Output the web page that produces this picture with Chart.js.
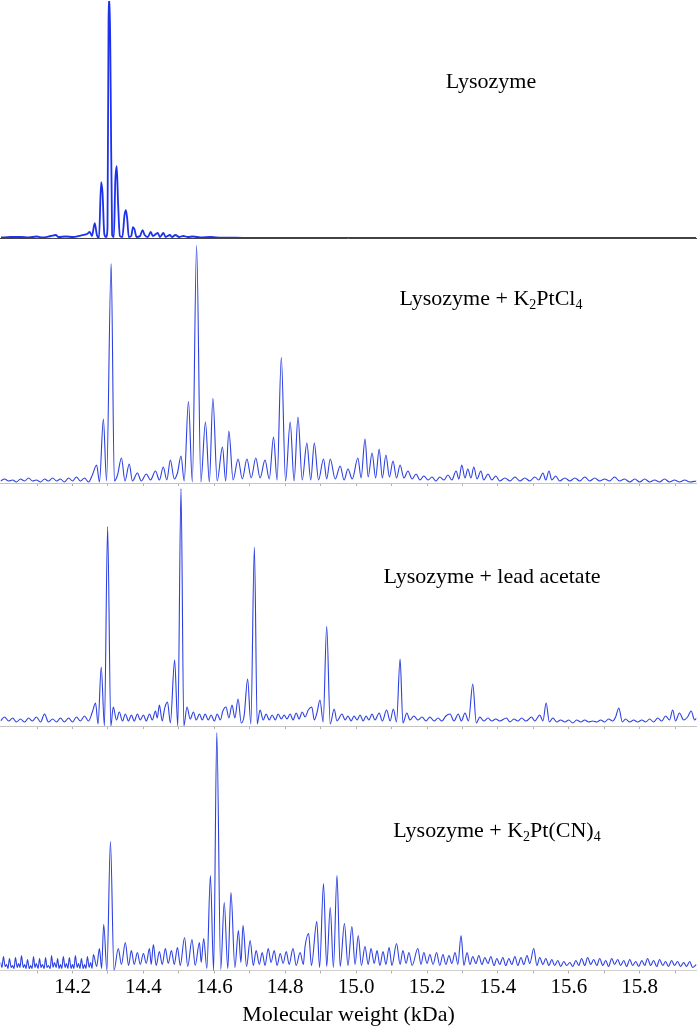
<!DOCTYPE html>
<html>
<head>
<meta charset="utf-8">
<script src="https://cdn.jsdelivr.net/npm/chart.js@4.4.1/dist/chart.umd.min.js"></script>
<style>
  html, body { margin: 0; padding: 0; background: #fff; overflow: hidden; }
  #wrap { position: relative; width: 697px; height: 1028px; }
  .panel { position: absolute; left: 0; width: 697px; }
  .lbl { position: absolute; font-family: "Liberation Serif", "Times New Roman", serif; font-size: 22px; color: #000; white-space: nowrap; transform: translate(-50%, -50%); }
  .lbl sub { font-size: 14px; vertical-align: -4px; line-height: 0; }
</style>
</head>
<body>
<div id="wrap">
  <div class="panel" id="c1"><canvas id="cv1"></canvas></div>
  <div class="panel" id="c2"><canvas id="cv2"></canvas></div>
  <div class="panel" id="c3"><canvas id="cv3"></canvas></div>
  <div class="panel" id="c4"><canvas id="cv4"></canvas></div>
  <div class="lbl" style="left:491px; top:81px;">Lysozyme</div>
  <div class="lbl" style="left:491px; top:298px;">Lysozyme + K<sub>2</sub>PtCl<sub>4</sub></div>
  <div class="lbl" style="left:492px; top:576px;">Lysozyme + lead acetate</div>
  <div class="lbl" style="left:497px; top:830px;">Lysozyme + K<sub>2</sub>Pt(CN)<sub>4</sub></div>
</div>
<script>
// ---------------- DATA (mass in kDa, intensity in arbitrary units) ----------------
const massRange = [13.997, 15.960];
const tickValues = [14.1,14.2,14.3,14.4,14.5,14.6,14.7,14.8,14.9,15.0,15.1,15.2,15.3,15.4,15.5,15.6,15.7,15.8,15.9];
const labeledTicks = [14.2,14.4,14.6,14.8,15.0,15.2,15.4,15.6,15.8];
const axisTitle = "Molecular weight (kDa)";

const lysozyme = [
 [13.997,0.5],[14.025,1],[14.053,1],[14.076,0.5],[14.098,1.5],[14.115,0.5],[14.138,2],[14.152,3],[14.160,1],
 [14.180,1.5],[14.200,1],[14.222,2.5],[14.240,4],[14.248,6],[14.254,2],[14.262,15],[14.268,3],[14.274,0],
 [14.280,56],[14.284,45],[14.289,4],[14.294,1],[14.298,10],[14.301,220],[14.304,240],[14.307,150],[14.311,3],
 [14.316,1],[14.320,57],[14.324,72],[14.328,34],[14.333,2],[14.340,1],[14.346,23],[14.350,28],[14.354,18],
 [14.358,1],[14.365,2],[14.370,11],[14.374,9],[14.380,1],[14.390,2],[14.397,8],[14.403,3],[14.412,1],[14.420,6],
 [14.426,2],[14.440,5],[14.446,1],[14.456,5],[14.462,1],[14.474,3],[14.480,1],[14.490,3],[14.500,1],[14.512,2],
 [14.525,1],[14.540,1.5],[14.560,0.5],[14.590,1],[14.620,0.3],[14.660,0.3],[14.700,0],[15.960,0]
];

const ptcl4 = [
 [13.997,2],[14.008,4],[14.020,2],[14.031,3],[14.042,1],[14.053,4],[14.065,2],[14.076,5],[14.087,2],[14.098,3],
 [14.110,1],[14.121,4],[14.132,2],[14.144,5],[14.155,2],[14.166,4],[14.177,1],[14.189,5],[14.200,2],[14.211,6],
 [14.222,2],[14.234,5],[14.245,1],[14.256,8],[14.268,18],[14.276,1],[14.287,64],[14.296,2],[14.309,220],[14.318,2],
 [14.327,8],[14.338,25],[14.348,2],[14.360,19],[14.369,2],[14.383,10],[14.394,2],[14.408,9],[14.420,3],[14.434,12],
 [14.445,3],[14.456,16],[14.466,3],[14.476,23],[14.487,4],[14.496,10],[14.506,27],[14.515,2],[14.527,82],[14.538,1],
 [14.550,238],[14.562,1],[14.575,61],[14.586,1],[14.596,85],[14.608,2],[14.623,36],[14.632,2],[14.641,52],[14.653,3],
 [14.667,24],[14.679,4],[14.692,24],[14.704,5],[14.717,25],[14.729,5],[14.743,23],[14.755,4],[14.767,46],[14.777,3],
 [14.789,126],[14.801,2],[14.814,61],[14.825,2],[14.836,66],[14.848,3],[14.861,40],[14.872,3],[14.882,40],[14.894,3],
 [14.908,24],[14.917,4],[14.927,24],[14.941,4],[14.955,17],[14.966,3],[14.977,14],[14.989,4],[15.005,25],[15.014,5],
 [15.025,44],[15.034,6],[15.045,30],[15.055,5],[15.065,34],[15.074,5],[15.084,28],[15.094,6],[15.104,22],[15.114,5],
 [15.124,18],[15.135,5],[15.146,12],[15.158,4],[15.169,9],[15.180,3],[15.191,7],[15.203,3],[15.214,6],[15.225,2],
 [15.236,6],[15.248,3],[15.259,8],[15.270,3],[15.282,12],[15.290,4],[15.298,18],[15.307,5],[15.315,14],[15.324,5],
 [15.332,16],[15.341,4],[15.352,12],[15.360,3],[15.372,9],[15.383,3],[15.394,7],[15.405,2],[15.420,5],[15.434,2],
 [15.448,6],[15.462,2],[15.476,5],[15.490,2],[15.504,6],[15.515,3],[15.527,10],[15.535,3],[15.544,12],[15.552,3],
 [15.563,7],[15.574,2],[15.589,5],[15.603,2],[15.617,5],[15.631,2],[15.645,6],[15.659,2],[15.673,5],[15.687,2],
 [15.701,4],[15.715,2],[15.729,6],[15.743,2],[15.757,4],[15.772,1],[15.786,4],[15.800,1],[15.814,4],[15.828,1],
 [15.842,3],[15.856,1],[15.870,4],[15.884,1],[15.898,3],[15.912,1],[15.927,3],[15.941,1],[15.960,2]
];

const leadAcetate = [
 [13.997,5],[14.008,9],[14.020,5],[14.031,8],[14.042,4],[14.053,7],[14.065,4],[14.076,8],[14.087,5],[14.098,9],
 [14.110,4],[14.121,12],[14.132,4],[14.144,7],[14.155,4],[14.166,8],[14.177,4],[14.189,8],[14.200,4],[14.211,9],
 [14.222,5],[14.234,10],[14.245,5],[14.256,14],[14.265,23],[14.272,2],[14.281,59],[14.290,0],[14.299,200],[14.308,0],
 [14.315,19],[14.324,6],[14.332,14],[14.341,5],[14.349,12],[14.358,5],[14.366,11],[14.374,5],[14.383,12],[14.391,6],
 [14.400,11],[14.408,5],[14.417,12],[14.425,6],[14.434,15],[14.439,8],[14.445,21],[14.453,5],[14.460,18],[14.468,24],
 [14.476,3],[14.488,66],[14.497,0],[14.506,238],[14.514,0],[14.523,19],[14.532,7],[14.541,14],[14.549,6],[14.558,12],
 [14.566,6],[14.574,12],[14.583,6],[14.591,11],[14.600,5],[14.608,12],[14.617,6],[14.624,15],[14.633,19],[14.641,8],
 [14.650,21],[14.658,8],[14.667,27],[14.676,3],[14.684,10],[14.694,47],[14.703,2],[14.713,179],[14.721,2],[14.729,16],
 [14.738,6],[14.746,12],[14.755,6],[14.763,11],[14.772,6],[14.780,12],[14.789,7],[14.797,11],[14.805,7],[14.814,12],
 [14.822,6],[14.831,13],[14.839,7],[14.848,14],[14.856,9],[14.865,16],[14.875,19],[14.882,6],[14.890,14],[14.898,26],
 [14.907,4],[14.917,100],[14.927,2],[14.938,17],[14.946,5],[14.960,12],[14.969,6],[14.977,10],[14.986,5],[14.994,10],
 [15.003,6],[15.011,11],[15.020,5],[15.028,10],[15.036,6],[15.045,12],[15.053,6],[15.065,13],[15.074,5],[15.086,16],
 [15.096,5],[15.105,17],[15.114,4],[15.124,67],[15.132,3],[15.143,13],[15.152,6],[15.163,10],[15.174,6],[15.186,9],
 [15.197,5],[15.208,9],[15.220,5],[15.231,8],[15.242,5],[15.253,10],[15.265,12],[15.276,5],[15.288,12],[15.297,5],
 [15.307,13],[15.317,5],[15.329,42],[15.339,3],[15.349,9],[15.360,5],[15.372,8],[15.383,5],[15.394,7],[15.405,5],
 [15.424,8],[15.434,4],[15.445,7],[15.456,5],[15.467,8],[15.479,5],[15.495,9],[15.504,5],[15.518,11],[15.527,5],
 [15.536,23],[15.545,4],[15.555,8],[15.566,4],[15.577,6],[15.589,4],[15.600,6],[15.611,3],[15.622,6],[15.634,4],
 [15.645,6],[15.656,4],[15.667,5],[15.679,4],[15.690,6],[15.701,4],[15.712,7],[15.724,5],[15.732,9],[15.741,18],
 [15.751,4],[15.760,7],[15.772,4],[15.783,6],[15.794,4],[15.806,6],[15.817,4],[15.828,7],[15.839,4],[15.851,8],
 [15.862,5],[15.873,10],[15.884,6],[15.893,16],[15.901,5],[15.912,13],[15.924,6],[15.935,9],[15.945,15],[15.955,6],
 [15.960,8]
];

const ptcn4 = [
 [13.997,8],[14.001,3],[14.005,14],[14.010,4],[14.014,6],[14.018,2],[14.022,12],[14.027,3],[14.031,5],[14.035,2],
 [14.039,13],[14.044,3],[14.048,7],[14.052,3],[14.056,15],[14.061,3],[14.065,6],[14.069,2],[14.073,11],[14.078,2],
 [14.082,5],[14.086,2],[14.090,14],[14.094,3],[14.098,7],[14.103,2],[14.107,12],[14.111,3],[14.115,6],[14.120,2],
 [14.124,13],[14.128,3],[14.132,5],[14.137,2],[14.141,15],[14.145,3],[14.149,8],[14.154,3],[14.158,12],[14.162,2],
 [14.166,6],[14.170,2],[14.174,14],[14.179,3],[14.183,7],[14.187,2],[14.191,13],[14.196,2],[14.200,6],[14.204,2],
 [14.208,15],[14.213,3],[14.217,7],[14.221,2],[14.225,12],[14.230,2],[14.234,6],[14.238,2],[14.242,14],[14.247,3],
 [14.251,8],[14.255,2],[14.259,16],[14.268,4],[14.276,22],[14.282,2],[14.288,46],[14.297,0],[14.307,129],[14.317,0],[14.329,22],
 [14.338,6],[14.349,28],[14.358,5],[14.366,20],[14.374,6],[14.383,18],[14.391,6],[14.400,17],[14.408,7],[14.417,22],
 [14.422,6],[14.428,26],[14.436,5],[14.445,19],[14.453,6],[14.462,22],[14.470,7],[14.479,20],[14.487,6],[14.496,23],
 [14.504,5],[14.516,33],[14.525,4],[14.537,31],[14.546,5],[14.558,28],[14.563,8],[14.570,32],[14.579,2],[14.589,95],
 [14.598,0],[14.607,238],[14.618,1],[14.628,68],[14.638,2],[14.647,78],[14.658,3],[14.668,40],[14.675,8],[14.681,45],
 [14.691,4],[14.701,30],[14.710,5],[14.718,20],[14.727,6],[14.735,18],[14.743,5],[14.752,22],[14.760,8],[14.769,20],
 [14.777,5],[14.786,17],[14.794,7],[14.803,19],[14.811,6],[14.822,22],[14.831,5],[14.842,18],[14.851,6],[14.856,24],
 [14.866,37],[14.874,5],[14.889,49],[14.897,3],[14.908,87],[14.917,4],[14.927,63],[14.936,3],[14.946,95],[14.955,4],
 [14.967,47],[14.977,5],[14.988,44],[14.997,6],[15.006,35],[15.015,5],[15.025,24],[15.034,6],[15.042,22],[15.051,7],
 [15.059,20],[15.067,5],[15.076,19],[15.084,6],[15.093,23],[15.101,5],[15.114,27],[15.124,6],[15.132,20],[15.141,7],
 [15.149,18],[15.158,5],[15.174,22],[15.183,6],[15.191,18],[15.200,7],[15.208,16],[15.217,6],[15.227,18],[15.236,5],
 [15.245,16],[15.253,6],[15.262,15],[15.270,7],[15.279,18],[15.287,6],[15.296,35],[15.304,5],[15.313,18],[15.321,6],
 [15.329,14],[15.338,7],[15.346,15],[15.355,6],[15.363,13],[15.372,7],[15.380,14],[15.389,5],[15.397,12],[15.405,6],
 [15.414,13],[15.422,5],[15.431,12],[15.439,6],[15.448,14],[15.456,5],[15.465,13],[15.473,6],[15.482,15],[15.490,7],
 [15.501,22],[15.510,5],[15.518,13],[15.527,6],[15.535,12],[15.544,5],[15.552,11],[15.560,5],[15.569,10],[15.577,4],
 [15.586,9],[15.594,5],[15.603,8],[15.611,4],[15.620,10],[15.628,5],[15.636,12],[15.645,5],[15.653,13],[15.662,6],
 [15.670,11],[15.679,5],[15.687,12],[15.696,5],[15.704,10],[15.712,4],[15.721,12],[15.729,6],[15.738,11],[15.746,5],
 [15.755,10],[15.763,4],[15.772,11],[15.780,5],[15.789,9],[15.797,4],[15.806,10],[15.814,5],[15.822,12],[15.831,5],
 [15.839,10],[15.848,4],[15.856,11],[15.865,5],[15.873,9],[15.881,4],[15.890,10],[15.898,5],[15.907,9],[15.915,4],
 [15.924,8],[15.932,4],[15.941,9],[15.949,3],[15.960,6]
];

// ---------------- CHARTS ----------------
const SERIF = '"Liberation Serif", "Times New Roman", serif';
const PLOT_H = 240;

function makePanel(n, pairs, cfg) {
  const box = document.getElementById('c' + n);
  const cv = document.getElementById('cv' + n);
  const initH = PLOT_H + (cfg.bottom ? 62 : 6);
  box.style.height = initH + 'px';
  cv.width = 697; cv.height = initH;
  const chart = new Chart(cv, {
    type: 'line',
    data: { datasets: [{
      data: pairs.map(p => ({ x: p[0], y: p[1] })),
      borderColor: cfg.color, borderWidth: cfg.lw, pointRadius: 0,
      cubicInterpolationMode: 'monotone', fill: false
    }]},
    options: {
      responsive: false, maintainAspectRatio: false, animation: false, events: [],
      layout: { padding: { left: 0, right: 0, top: 0, bottom: cfg.bottom ? 0 : 2 } },
      plugins: { legend: { display: false }, tooltip: { enabled: false } },
      scales: {
        x: {
          type: 'linear', min: massRange[0], max: massRange[1],
          afterBuildTicks: s => { s.ticks = tickValues.map(v => ({ value: v })); },
          grid: { display: true, drawOnChartArea: false, drawTicks: cfg.ticks, tickLength: 3, color: '#b0b0b0', tickWidth: 1 },
          border: { display: true, color: cfg.axisColor, width: 1 },
          ticks: {
            display: !!cfg.bottom, autoSkip: false, maxRotation: 0, padding: 2, color: '#000',
            font: { family: SERIF, size: 21, lineHeight: 1.1 },
            callback: v => labeledTicks.some(t => Math.abs(t - v) < 1e-6) ? v.toFixed(1) : ''
          },
          title: { display: !!cfg.bottom, text: axisTitle, color: '#000', font: { family: SERIF, size: 22 }, padding: { top: 1, bottom: 0 } }
        },
        y: { display: false, min: 0, max: cfg.ymax }
      }
    }
  });
  // make the plotting area exactly the wanted height and align its bottom with the panel baseline
  const extra = initH - (chart.chartArea.bottom - chart.chartArea.top);
  const newH = Math.round(cfg.plotH + extra);
  box.style.height = newH + 'px';
  chart.resize(697, newH);
  box.style.top = (cfg.baseline - chart.chartArea.bottom) + 'px';
  return chart;
}

makePanel(1, lysozyme,    { baseline: 238, plotH: 238, ymax: 238, color: 'rgb(30,50,235)', lw: 1.8, ticks: false, axisColor: '#444' });
makePanel(2, ptcl4,       { baseline: 483, plotH: 240, ymax: 240, color: 'rgb(45,65,225)', lw: 1.1, ticks: true, axisColor: '#c4c4c4' });
makePanel(3, leadAcetate, { baseline: 726, plotH: 240, ymax: 240, color: 'rgb(45,65,225)', lw: 1.1, ticks: true, axisColor: '#c4c4c4' });
makePanel(4, ptcn4,       { baseline: 970, plotH: 240, ymax: 240, color: 'rgb(45,65,225)', lw: 1.1, ticks: true, axisColor: '#d0d0d0', bottom: true });
</script>
</body>
</html>
